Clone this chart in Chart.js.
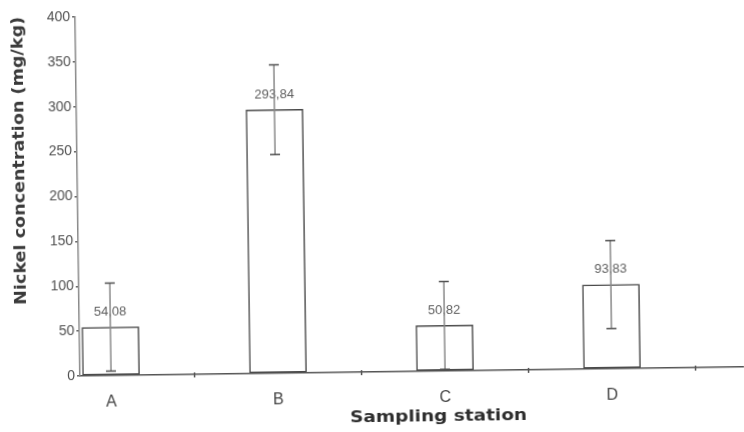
<!DOCTYPE html>
<html>
<head>
<meta charset="utf-8">
<script src="https://cdn.jsdelivr.net/npm/chart.js@4.4.1/dist/chart.umd.min.js"></script>
<style>
  html, body { margin: 0; padding: 0; background: #ffffff; overflow: hidden; }
  #wrap { width: 744px; height: 432px; transform: rotate(-0.78deg); transform-origin: 80px 376px; }
  canvas { display: block; }
</style>
</head>
<body>
<div id="wrap"><canvas id="c" width="744" height="432"></canvas></div>
<script>
// ---- data ----
const categories = ['A', 'B', 'C', 'D'];
const concentration = [54.08, 293.84, 50.82, 93.83];
const errorSD = [49, 50, 49, 49];
const valueLabels = ['54,08', '293,84', '50,82', '93,83'];
const yTicks = [0, 50, 100, 150, 200, 250, 300, 350, 400];
const yTitle = 'Nickel concentration (mg/kg)';
const xTitle = 'Sampling station';

const NARROW = '"Liberation Sans Narrow", "Liberation Sans", Arial, sans-serif';
const BOLD = '"DejaVu Sans", Verdana, sans-serif';

function drawFitted(ctx, text, cx, cy, width, font, color, rot) {
  ctx.save();
  ctx.translate(cx, cy);
  if (rot) ctx.rotate(rot);
  ctx.font = font;
  const w = ctx.measureText(text).width;
  ctx.scale(width / w, 1);
  ctx.fillStyle = color;
  ctx.textAlign = 'center';
  ctx.textBaseline = 'middle';
  ctx.fillText(text, 0, 0);
  ctx.restore();
}

const decorPlugin = {
  id: 'decor',
  afterDatasetsDraw(chart) {
    const ctx = chart.ctx;
    const xs = chart.scales.x, ys = chart.scales.y;
    const area = chart.chartArea;
    // boundary tick marks on the x axis
    ctx.save();
    ctx.strokeStyle = '#555';
    ctx.lineWidth = 1.5;
    for (let i = 0; i < categories.length; i++) {
      const px = xs.getPixelForValue(i + 0.5);
      ctx.beginPath();
      ctx.moveTo(px, area.bottom - 2);
      ctx.lineTo(px, area.bottom + 3);
      ctx.stroke();
    }
    // value labels
    ctx.fillStyle = '#606060';
    ctx.font = '13px ' + NARROW;
    ctx.textAlign = 'center';
    ctx.textBaseline = 'middle';
    for (let i = 0; i < categories.length; i++) {
      const px = xs.getPixelForValue(i);
      const py = ys.getPixelForValue(concentration[i]);
      ctx.fillText(valueLabels[i], px, py - 15);
    }
    // error bars
    for (let i = 0; i < categories.length; i++) {
      const px = xs.getPixelForValue(i);
      const top = ys.getPixelForValue(concentration[i] + errorSD[i]);
      const bot = ys.getPixelForValue(concentration[i] - errorSD[i]);
      ctx.strokeStyle = '#8a8a8a';
      ctx.lineWidth = 1.5;
      ctx.beginPath();
      ctx.moveTo(px, top);
      ctx.lineTo(px, bot);
      ctx.stroke();
      ctx.strokeStyle = '#505050';
      ctx.beginPath();
      ctx.moveTo(px - 5, top); ctx.lineTo(px + 5, top);
      ctx.moveTo(px - 5, bot); ctx.lineTo(px + 5, bot);
      ctx.stroke();
    }
    ctx.restore();
  },
  afterDraw(chart) {
    const ctx = chart.ctx;
    drawFitted(ctx, yTitle, 23, 160, 288, 'bold 16px ' + BOLD, '#3a3a3a', -Math.PI / 2);
    drawFitted(ctx, xTitle, 438, 422, 177, 'bold 16px ' + BOLD, '#2e2e2e', 0);
  }
};

new Chart(document.getElementById('c'), {
  type: 'bar',
  data: {
    datasets: [{
      data: categories.map((c, i) => ({ x: i, y: concentration[i] })),
      backgroundColor: '#ffffff',
      borderColor: '#4a4a4a',
      borderWidth: 1.5,
      barThickness: 57,
      borderSkipped: false
    }]
  },
  options: {
    responsive: false,
    animation: false,
    events: [],
    layout: { padding: { top: 17, left: 0, right: 0, bottom: 0 } },
    plugins: { legend: { display: false }, tooltip: { enabled: false } },
    scales: {
      x: {
        type: 'linear',
        offset: false,
        min: -0.186,
        max: 3.79,
        afterBuildTicks: s => { s.ticks = categories.map((c, i) => ({ value: i })); },
        afterFit: s => { s.height = 56; },
        ticks: {
          callback: v => categories[v],
          color: '#444',
          font: { family: '"Liberation Sans", Arial, sans-serif', size: 16 },
          padding: 9,
          maxRotation: 0
        },
        grid: { display: false, offset: false },
        border: { display: true, color: '#555', width: 1.5 }
      },
      y: {
        min: 0,
        max: 400,
        afterBuildTicks: s => { s.ticks = yTicks.map(v => ({ value: v })); },
        afterFit: s => { s.width = 80; },
        ticks: {
          color: '#505050',
          font: { family: NARROW, size: 14 },
          padding: 2
        },
        grid: { drawOnChartArea: false, drawTicks: true, tickLength: 3, color: '#666', lineWidth: 1.5 },
        border: { display: true, color: '#8a8a8a', width: 1.5 }
      }
    }
  },
  plugins: [decorPlugin]
});
</script>
</body>
</html>
